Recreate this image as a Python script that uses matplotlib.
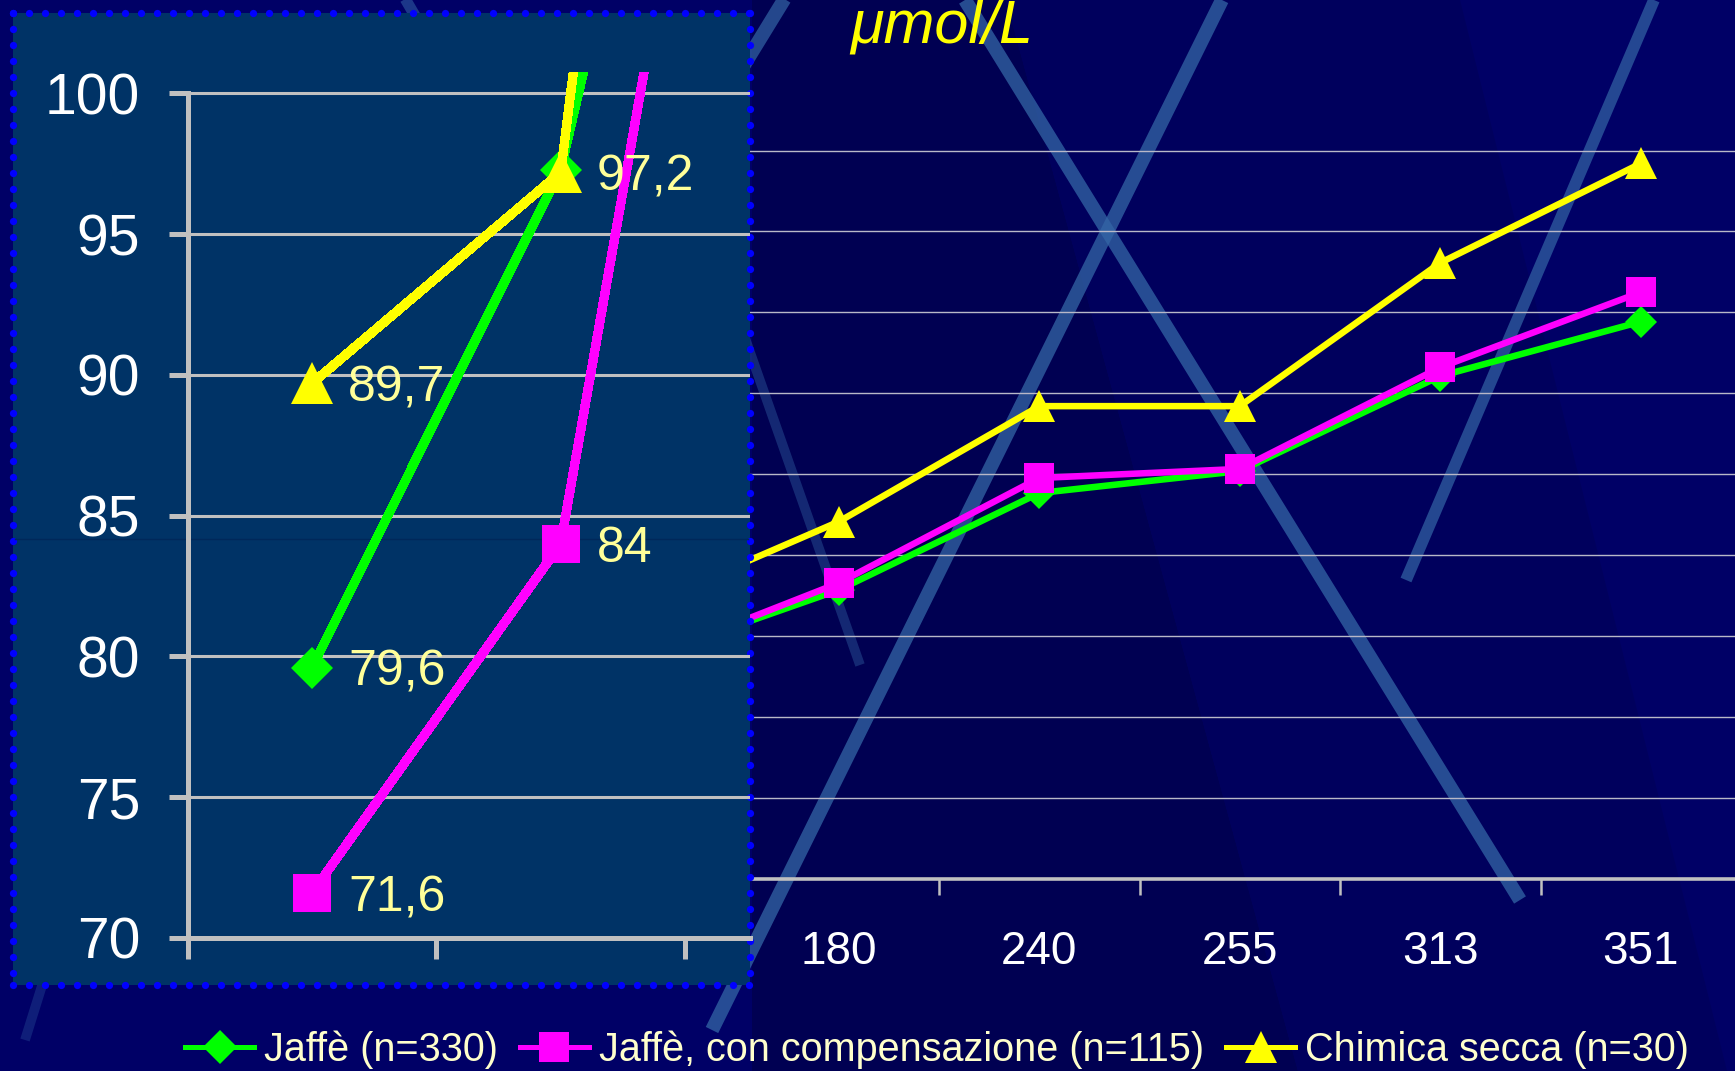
import matplotlib
matplotlib.use('Agg')
import matplotlib.pyplot as plt
import numpy as np
from matplotlib import font_manager
from matplotlib.lines import Line2D
from matplotlib.patches import Rectangle, Polygon

# mean creatinine recovered at each control level (umol/L)
levels = ['180', '240', '255', '313', '351']
jaffe = [178.4, 238.3, 251.9, 310.6, 344.2]
jaffe_comp = [182.7, 247.6, 253.2, 316.0, 362.4]
secca = [220.6, 292.0, 292.0, 380.6, 442.0]

# the level just below 180 lies behind the zoom panel
jaffe_prev = 135
jaffe_comp_prev = 134
secca_prev = 167

# two lowest levels, enlarged in the zoom panel
jaffe_low = [79.6, 97.3]
jaffe_comp_low = [71.6, 84.0]
secca_low = [89.7, 97.2]

names = ['Jaffè (n=330)', 'Jaffè, con compensazione (n=115)', 'Chimica secca (n=30)']
colors = ['#00ff00', '#ff00ff', '#ffff00']
markers = ['D', 's', '^']

W, H, DPI = 1735, 1071, 100
regular = 'Liberation Sans'
installed = {f.name for f in font_manager.fontManager.ttflist}
narrow = 'Liberation Sans Narrow' if 'Liberation Sans Narrow' in installed else regular
legend_size = 34.5 if narrow != regular else 28.5

fig = plt.figure(figsize=(W / DPI, H / DPI), dpi=DPI, facecolor='#000066')

# slide backdrop, in pixel units
back = fig.add_axes([0, 0, 1, 1], zorder=-2)
back.set_xlim(0, W)
back.set_ylim(H, 0)
back.axis('off')
back.add_patch(Polygon([(752, 0), (1006, 0), (1298, H), (752, H)], closed=True,
                       facecolor='#000052', edgecolor='none'))
back.add_patch(Polygon([(1006, 0), (1460, 0), (1727, H), (1298, H)], closed=True,
                       facecolor='#00005d', edgecolor='none'))
stripes = [((1222, 0), (712, 1030), 10, 0.75),
           ((965, 0), (1520, 900), 10, 0.75),
           ((1654, 0), (1406, 580), 8.5, 0.7),
           ((700, 210), (860, 665), 7, 0.4),
           ((790, -10), (600, 300), 10, 0.7),
           ((400, -10), (470, 110), 8, 0.55),
           ((50, 960), (25, 1040), 7, 0.3)]
for (sx0, sy0), (sx1, sy1), lw, a in stripes:
    back.plot([sx0, sx1], [sy0, sy1], color='#3466a6', lw=lw, alpha=a,
              solid_capstyle='butt')

# main chart
ax = fig.add_axes([200 / W, 0, 1 - 200 / W, 1], zorder=0)
ax.patch.set_visible(False)
ax.set_xlim((200 - 838.8) / 200.5, (W - 838.8) / 200.5)
ax.set_ylim(-(H - 878.6) / 80.9 * 50, 878.6 / 80.9 * 50)
for s in ['left', 'right', 'top']:
    ax.spines[s].set_visible(False)
ax.spines['bottom'].set_position(('data', 0))
ax.spines['bottom'].set_color('#c0c0c0')
ax.spines['bottom'].set_linewidth(2.6)
ax.set_yticks(range(50, 500, 50))
ax.tick_params(axis='y', length=0, labelleft=False)
ax.yaxis.grid(True, color='#b8b8c8', lw=1.0)
ax.set_axisbelow(True)
ax.set_xticks(range(len(levels)), labels=levels)
ax.set_xticks([i + 0.5 for i in range(-1, len(levels) - 1)], minor=True)
ax.tick_params(axis='x', which='major', length=0, pad=37, labelsize=33,
               labelcolor='white')
ax.tick_params(axis='x', which='minor', direction='out', length=11.5,
               width=1.8, color='#c0c0c0')
for lab in ax.get_xticklabels():
    lab.set_family(regular)

full = [[jaffe_prev] + jaffe, [jaffe_comp_prev] + jaffe_comp, [secca_prev] + secca]
bg_sizes = [15.8, 22, 23]
for vals, c, m, ms in zip(full, colors, markers, bg_sizes):
    ax.plot(range(-1, len(levels)), vals, color=c, lw=4.7, marker=m,
            markersize=ms, markeredgewidth=0)

# zoom panel frame with a dotted blue border (pixel coordinates)
x0, x1, y0, y1 = 13, 750, 13, 985
fig.add_artist(Rectangle((x0 / W, 1 - y1 / H), (x1 - x0) / W, (y1 - y0) / H,
                         transform=fig.transFigure, facecolor='#003366',
                         edgecolor='none', zorder=0.5))
step = 16
top_x = np.arange(x0, x1 + 1, step)
side_y = np.arange(y0, y1 + 1, step)
dots_x = np.concatenate([top_x, top_x, np.full(side_y.size, x0), np.full(side_y.size, x1)])
dots_y = np.concatenate([np.full(top_x.size, y0), np.full(top_x.size, y1), side_y, side_y])
fig.add_artist(Line2D(dots_x / W, 1 - dots_y / H, transform=fig.transFigure,
                      linestyle='none', marker='o', markersize=5.2,
                      markerfacecolor='#0000ff', markeredgewidth=0, zorder=0.55))
fig.add_artist(Line2D([15 / W, 748 / W], [1 - 539 / H] * 2, transform=fig.transFigure,
                      color='#00285a', lw=1.0, zorder=0.6))

zin = fig.add_axes([187.6 / W, 1 - 938 / H, (750 - 187.6) / W, (938 - 72) / H], zorder=1)
zin.patch.set_visible(False)
zin.set_xlim(-0.5, -0.5 + (750 - 187.6) / 248.7)
zin.set_ylim(70, 100 + (93.5 - 72) / 28.15)
for s in ['right', 'top']:
    zin.spines[s].set_visible(False)
for s in ['left', 'bottom']:
    zin.spines[s].set_color('#c0c0c0')
    zin.spines[s].set_linewidth(3.6)
zin.spines['left'].set_bounds(70, 100)
zin.set_yticks(range(70, 101, 5))
zin.set_xticks([-0.5, 0.5, 1.5])
zin.yaxis.grid(True, color='#c0c0c0', lw=2.2)
zin.set_axisbelow(True)
zin.tick_params(axis='y', direction='out', length=13.7, width=3.6, color='#c0c0c0',
                pad=20.5, labelsize=41, labelcolor='white')
zin.tick_params(axis='x', direction='out', length=15, width=3.6, color='#c0c0c0',
                labelbottom=False)
for lab in zin.get_yticklabels():
    lab.set_family(regular)

low = [jaffe_low + [jaffe_prev], jaffe_comp_low + [jaffe_comp_prev],
       secca_low + [secca_prev]]
labelled = [[0], [0, 1], [0, 1]]
in_sizes = [21.4, 28, 30]
for vals, c, m, ms, idx in zip(low, colors, markers, in_sizes, labelled):
    zin.plot(range(len(vals)), vals, color=c, lw=6, marker=m, markersize=ms,
             markeredgewidth=0, antialiased=False)
    for i in idx:
        txt = ('%g' % vals[i]).replace('.', ',')
        zin.annotate(txt, (i, vals[i]), xytext=(26, -13), textcoords='offset points',
                     ha='left', va='baseline', fontsize=36, color='#ffff99',
                     family=regular, annotation_clip=False)

fig.text(850 / W, 1 - 43 / H, 'μmol/L', ha='left', va='baseline', fontsize=44,
         style='italic', color='#ffff00', family=regular)

handles = [Line2D([], [], color=c, lw=3.6, marker=m, markersize=ms, markeredgewidth=0)
           for c, m, ms in zip(colors, markers, [17, 22, 23])]
fig.legend(handles, names, loc='center', bbox_to_anchor=(937 / W, (H - 1050) / H),
           ncol=3, frameon=False, prop={'family': narrow, 'size': legend_size},
           labelcolor='#ffffcc', handlelength=1.75, handletextpad=0.25,
           columnspacing=0.55, borderpad=0, borderaxespad=0)

fig.savefig('out.png', dpi=DPI, facecolor=fig.get_facecolor())
